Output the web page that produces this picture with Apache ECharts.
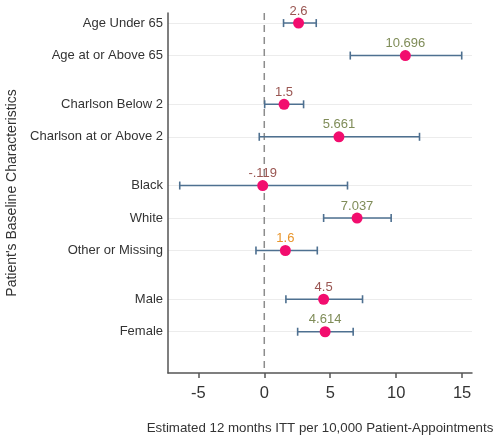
<!DOCTYPE html>
<html>
<head>
<meta charset="utf-8">
<script src="https://cdn.jsdelivr.net/npm/echarts@6/dist/echarts.min.js"></script>
<style>html,body{margin:0;padding:0;background:#fff;}#c{width:495px;height:437px;}</style>
</head>
<body>
<div id="c"></div>
<script>
var categories = ["Age Under 65","Age at or Above 65","Charlson Below 2","Charlson at or Above 2","Black","White","Other or Missing","Male","Female"];
var rowPositions = [1, 2, 3.5, 4.5, 6, 7, 8, 9.5, 10.5];
var estimates = [2.6, 10.696, 1.5, 5.661, -0.119, 7.037, 1.6, 4.5, 4.614];
var estimateLabels = ["2.6","10.696","1.5","5.661","-.119","7.037","1.6","4.5","4.614"];
var lowerCI = [1.46, 6.52, 0.03, -0.38, -6.41, 4.5, -0.63, 1.64, 2.53];
var upperCI = [3.94, 14.97, 2.98, 11.77, 6.31, 9.62, 4.02, 7.45, 6.74];
var labelColors = ["#9a5652","#7f8c58","#9a5652","#7f8c58","#9a5652","#7f8c58","#e8952c","#9a5652","#7f8c58"];
var xTicks = [-5, 0, 5, 10, 15];

var chart = echarts.init(document.getElementById('c'), null, {renderer: 'canvas'});
var font = '"Liberation Sans", Arial, sans-serif';

var ciData = rowPositions.map(function (p, i) { return [lowerCI[i], upperCI[i], p]; });
var pointData = rowPositions.map(function (p, i) {
  return {
    value: [estimates[i], p],
    label: {formatter: estimateLabels[i], color: labelColors[i]}
  };
});

var option = {
  animation: false,
  grid: {left: 168, right: 23, top: 13, bottom: 64, containLabel: false, outerBoundsMode: 'none'},
  xAxis: {
    type: 'value', min: -7.3, max: 15.75,
    name: 'Estimated 12 months ITT per 10,000 Patient-Appointments',
    nameLocation: 'middle', nameGap: 49,
    nameTextStyle: {fontFamily: font, fontSize: 13.3, color: '#333'},
    axisLine: {show: true, onZero: false, lineStyle: {color: '#555', width: 1.5}},
    axisTick: {show: true, length: 5, customValues: xTicks, lineStyle: {color: '#555', width: 1.5}},
    axisLabel: {customValues: xTicks, fontFamily: font, fontSize: 16.5, color: '#333', margin: 12},
    splitLine: {show: false}
  },
  yAxis: {
    type: 'value', min: 0.69, max: 11.77, inverse: true,
    name: "Patient's Baseline Characteristics",
    nameLocation: 'middle', nameGap: 141,
    nameTextStyle: {fontFamily: font, fontSize: 14, color: '#333'},
    axisLine: {show: true, onZero: false, lineStyle: {color: '#555', width: 1.5}},
    axisTick: {show: false},
    axisLabel: {
      customValues: rowPositions,
      fontFamily: font, fontSize: 13, color: '#333', margin: 5,
      formatter: function (v) {
        var i = rowPositions.indexOf(v);
        return i >= 0 ? categories[i] : '';
      }
    },
    splitLine: {show: false}
  },
  series: [
    {
      type: 'line', data: [], silent: true, z: 0,
      markLine: {
        silent: true, symbol: 'none', label: {show: false}, z: 0,
        lineStyle: {color: '#ececec', type: 'solid', width: 1},
        data: rowPositions.map(function (p) { return {yAxis: p}; })
      }
    },
    {
      type: 'custom', silent: true, z: 1,
      data: [[0]],
      renderItem: function (params, api) {
        var top = api.coord([0, 0.69]);
        var bot = api.coord([0, 11.77]);
        return {
          type: 'line',
          shape: {x1: top[0], y1: top[1], x2: bot[0], y2: bot[1]},
          style: {stroke: '#8c8c8c', lineWidth: 1.5, lineDash: [7, 5]}
        };
      }
    },
    {
      type: 'custom', silent: true,
      data: ciData,
      encode: {x: [0, 1], y: 2},
      renderItem: function (params, api) {
        var a = api.coord([api.value(0), api.value(2)]);
        var b = api.coord([api.value(1), api.value(2)]);
        var h = 4;
        var st = {stroke: '#4e7090', lineWidth: 1.6};
        return {
          type: 'group',
          children: [
            {type: 'line', shape: {x1: a[0], y1: a[1], x2: b[0], y2: b[1]}, style: st},
            {type: 'line', shape: {x1: a[0], y1: a[1] - h, x2: a[0], y2: a[1] + h}, style: st},
            {type: 'line', shape: {x1: b[0], y1: b[1] - h, x2: b[0], y2: b[1] + h}, style: st}
          ]
        };
      },
      z: 10
    },
    {
      type: 'scatter', data: pointData, symbol: 'circle', symbolSize: 11,
      itemStyle: {color: '#f20d6e', opacity: 1},
      label: {show: true, position: 'top', distance: 0, fontFamily: font, fontSize: 13},
      z: 20
    }
  ]
};
chart.setOption(option);
</script>
</body>
</html>
